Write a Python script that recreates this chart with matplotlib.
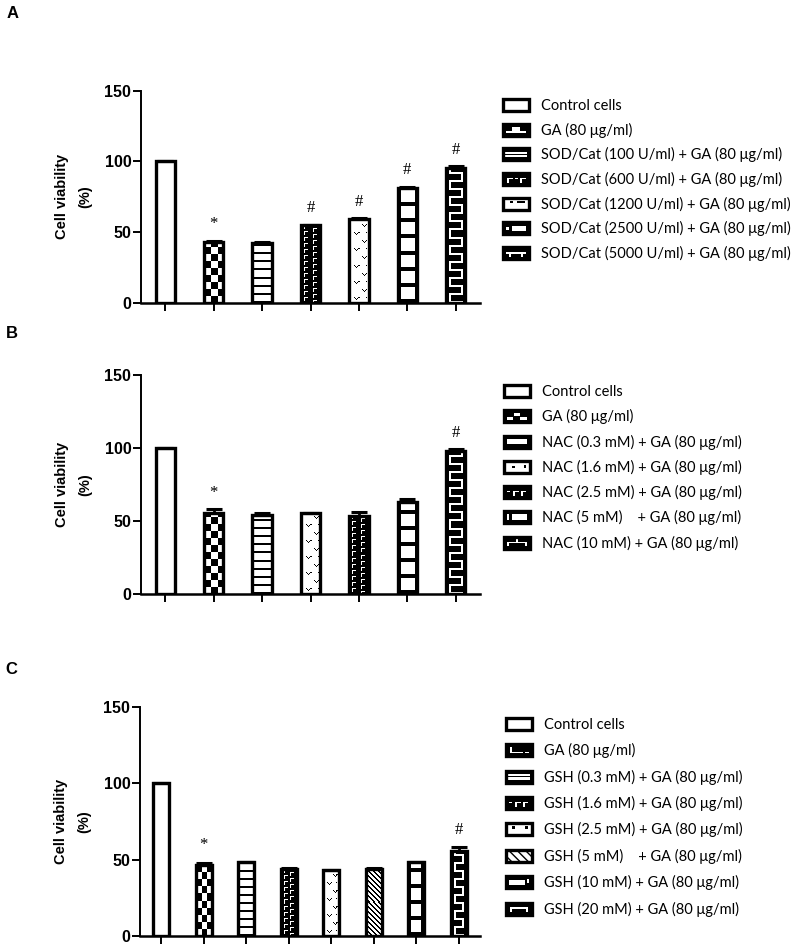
import numpy as np
import matplotlib
matplotlib.use('Agg')
import matplotlib.pyplot as plt
from matplotlib.patches import Rectangle
from matplotlib.legend_handler import HandlerBase

# --- data ---
labels_a = ['Control cells', 'GA (80 μg/ml)',
            'SOD/Cat (100 U/ml) + GA (80 μg/ml)', 'SOD/Cat (600 U/ml) + GA (80 μg/ml)',
            'SOD/Cat (1200 U/ml) + GA (80 μg/ml)', 'SOD/Cat (2500 U/ml) + GA (80 μg/ml)',
            'SOD/Cat (5000 U/ml) + GA (80 μg/ml)']
viab_a = [100, 42.8, 42.4, 54.8, 59.5, 81.5, 95.5]
err_a = [0, 1.3, 0.5, 0.5, 0.4, 0.8, 1.3]
marks_a = ['', '*', '', '#', '#', '#', '#']

labels_b = ['Control cells', 'GA (80 μg/ml)',
            'NAC (0.3 mM) + GA (80 μg/ml)', 'NAC (1.6 mM) + GA (80 μg/ml)',
            'NAC (2.5 mM) + GA (80 μg/ml)', 'NAC (5 mM)    + GA (80 μg/ml)',
            'NAC (10 mM) + GA (80 μg/ml)']
viab_b = [100, 55.3, 54.4, 55.3, 53.7, 62.8, 98.2]
err_b = [0, 2.6, 0.9, 0.4, 2.4, 2.4, 0.9]
marks_b = ['', '*', '', '', '', '', '#']

labels_c = ['Control cells', 'GA (80 μg/ml)',
            'GSH (0.3 mM) + GA (80 μg/ml)', 'GSH (1.6 mM) + GA (80 μg/ml)',
            'GSH (2.5 mM) + GA (80 μg/ml)', 'GSH (5 mM)    + GA (80 μg/ml)',
            'GSH (10 mM) + GA (80 μg/ml)', 'GSH (20 mM) + GA (80 μg/ml)']
viab_c = [100, 46.6, 48.3, 44.1, 43.1, 44.1, 48.1, 55.4]
err_c = [0, 1.3, 0.4, 0.4, 0.3, 0.7, 0.4, 2.6]
marks_c = ['', '*', '', '', '', '', '', '#']

# fill patterns per bar (GraphPad-like)
pat_a = ['plain', 'checker', 'hlines', 'lshape', 'vdots', 'squares', 'brick']
pat_b = ['plain', 'checker', 'hlines', 'vdots', 'lshape', 'squares', 'brick']
pat_c = ['plain', 'checker', 'hlines', 'lshape', 'vdots', 'diag', 'squares', 'brick']

# legend icons: (base colour, spot colour, spots, hatch)
icons_a = [('white', 'white', [], None),
           ('black', 'white', [(0.1, 0.22, 0.8, 0.14), (0.35, 0.36, 0.3, 0.38)], None),
           ('black', 'white', [(0.08, 0.56, 0.84, 0.16), (0.08, 0.26, 0.84, 0.16)], None),
           ('black', 'white', [(0.15, 0.48, 0.22, 0.14), (0.15, 0.2, 0.08, 0.3),
                               (0.45, 0.48, 0.12, 0.14), (0.65, 0.48, 0.22, 0.14),
                               (0.65, 0.2, 0.08, 0.3)], None),
           ('white', 'black', [(0.28, 0.55, 0.1, 0.2), (0.52, 0.55, 0.32, 0.2)], None),
           ('black', 'white', [(0.35, 0.3, 0.55, 0.4), (0.1, 0.38, 0.12, 0.25)], None),
           ('black', 'white', [(0.1, 0.45, 0.8, 0.13), (0.22, 0.2, 0.08, 0.3),
                               (0.7, 0.2, 0.08, 0.3)], None)]
icons_b = [('white', 'white', [], None),
           ('black', 'white', [(0.38, 0.5, 0.25, 0.25), (0.1, 0.22, 0.25, 0.25),
                               (0.62, 0.22, 0.25, 0.25)], None),
           ('black', 'white', [(0.12, 0.3, 0.76, 0.4)], None),
           ('white', 'black', [(0.3, 0.38, 0.12, 0.22), (0.76, 0.38, 0.1, 0.28)], None),
           ('black', 'white', [(0.1, 0.48, 0.12, 0.14), (0.35, 0.48, 0.22, 0.14),
                               (0.35, 0.2, 0.08, 0.3), (0.65, 0.48, 0.2, 0.14),
                               (0.65, 0.2, 0.08, 0.3)], None),
           ('black', 'white', [(0.3, 0.25, 0.6, 0.5), (0.1, 0.25, 0.08, 0.5)], None),
           ('black', 'white', [(0.1, 0.45, 0.8, 0.13), (0.45, 0.58, 0.08, 0.25),
                               (0.1, 0.2, 0.08, 0.25), (0.82, 0.2, 0.08, 0.25)], None)]
icons_c = [('white', 'white', [], None),
           ('black', 'white', [(0.15, 0.25, 0.1, 0.5), (0.15, 0.25, 0.5, 0.14),
                               (0.75, 0.25, 0.12, 0.14)], None),
           ('black', 'white', [(0.08, 0.55, 0.84, 0.2), (0.08, 0.25, 0.84, 0.2)], None),
           ('black', 'white', [(0.1, 0.48, 0.12, 0.14), (0.35, 0.48, 0.22, 0.14),
                               (0.35, 0.2, 0.08, 0.3), (0.65, 0.48, 0.2, 0.14),
                               (0.65, 0.2, 0.08, 0.3)], None),
           ('white', 'black', [(0.22, 0.55, 0.12, 0.2), (0.75, 0.5, 0.1, 0.25)], None),
           ('white', 'white', [], '\\\\\\\\'),
           ('black', 'white', [(0.1, 0.3, 0.62, 0.4), (0.8, 0.45, 0.08, 0.3)], None),
           ('black', 'white', [(0.15, 0.5, 0.7, 0.15), (0.15, 0.22, 0.08, 0.4),
                               (0.77, 0.22, 0.08, 0.4)], None)]


def pattern(kind, h, w):
    r, c = np.mgrid[0:h, 0:w]
    img = np.zeros((h, w))
    if kind == 'checker':
        img = ((r // 7) + (c * 3 // max(w, 1))) % 2
    elif kind == 'hlines':
        img = (r % 8 < 2).astype(float)
    elif kind == 'vdots':
        img = np.zeros((h, w))
        for k, cx in enumerate([int(w * 0.38), int(w * 0.78)]):
            for r0 in range(3 + k * 8, h - 3, 16):
                for dr, dcs in [(2, (-2, 2)), (1, (-1, 1)), (0, (0,))]:
                    for dc in dcs:
                        if 0 <= cx + dc < w:
                            img[r0 + dr, cx + dc] = 1
            # small dots near the right edge
        img[(r % 8 == 5) & (c == w - 3)] = 1
    elif kind == 'lshape':
        img = np.ones((h, w))
        for k, c0 in enumerate([int(w * 0.2), int(w * 0.6)]):
            loc = (r + 3 * k) % 6
            img[(loc == 5) & (c >= c0) & (c < c0 + 4)] = 0
            img[(loc >= 2) & (c == c0)] = 0
    elif kind == 'squares':
        img = ((r % 16 < 4) | (c < 3) | (c >= w - 3)).astype(float)
    elif kind == 'brick':
        img = np.ones((h, w))
        img[(r % 8 < 2) & (c >= 3) & (c < w - 3)] = 0
        left = (r // 8) % 2 == 0
        img[left & (c >= 3) & (c < 5)] = 0
        img[~left & (c >= w - 5) & (c < w - 3)] = 0
    elif kind == 'diag':
        img = ((r + c) % 5 < 2).astype(float)
    return img


class Icon:
    def __init__(self, spec):
        self.base, self.spot_color, self.spots, self.hatch = spec


class IconHandler(HandlerBase):
    def create_artists(self, legend, orig_handle, xdescent, ydescent,
                       width, height, fontsize, trans):
        x0, y0 = -xdescent, -ydescent
        arts = [Rectangle((x0, y0), width, height, facecolor=orig_handle.base,
                          edgecolor='black', hatch=orig_handle.hatch, lw=0,
                          transform=trans)]
        for sx, sy, sw, sh in orig_handle.spots:
            arts.append(Rectangle((x0 + sx * width, y0 + sy * height), sw * width,
                                  sh * height, facecolor=orig_handle.spot_color,
                                  edgecolor='none', transform=trans))
        arts.append(Rectangle((x0, y0), width, height, facecolor='none',
                              edgecolor='black', lw=2.4, transform=trans))
        return arts


fig = plt.figure(figsize=(8, 9.5), dpi=100)

tickfont = matplotlib.font_manager.FontProperties(family='Liberation Sans',
                                                  weight='bold', size=11.5)
legfam = ['Lato', 'DejaVu Sans']


def panel(rect, vals, errs, marks, pats, labels, icons, barw, letter, letter_xy,
          leg_xy, leg_pitch):
    ax = fig.add_axes(rect)
    n = len(vals)
    x = np.arange(n)
    ax.set_xlim(-0.5, n - 0.5)
    ax.set_ylim(0, 150)
    bars = ax.bar(x, vals, width=barw, facecolor='none', edgecolor='black',
                  linewidth=2.4, zorder=3)
    # fill patterns, pixel based
    for b, kind in zip(bars, pats):
        (px0, py0), (px1, py1) = ax.transData.transform(
            [(b.get_x(), 0), (b.get_x() + b.get_width(), b.get_height())])
        h, w = max(int(round(py1 - py0)), 1), max(int(round(px1 - px0)), 1)
        im = ax.imshow(pattern(kind, h, w), cmap='gray_r', vmin=0, vmax=1,
                       origin='lower', interpolation='nearest', aspect='auto',
                       extent=(b.get_x(), b.get_x() + b.get_width(), 0, b.get_height()),
                       zorder=2)
        im.set_clip_path(b)
    ax.set_xlim(-0.5, n - 0.5)
    ax.set_ylim(0, 150)
    ax.errorbar(x, vals, yerr=[np.zeros(n), errs], fmt='none', ecolor='black',
                elinewidth=2, capsize=6, capthick=2.2, zorder=4)
    for xi, v, e, m in zip(x, vals, errs, marks):
        if m:
            ax.text(xi, v + e + 11.5, m, ha='center', va='center',
                    family='Liberation Serif', size=12)
    for s in ['top', 'right']:
        ax.spines[s].set_visible(False)
    ax.spines['left'].set_linewidth(1.4)
    ax.spines['bottom'].set_linewidth(1.8)
    ax.set_yticks([0, 50, 100, 150])
    ax.set_xticks(x)
    ax.set_xticklabels([])
    ax.tick_params(axis='y', length=6, width=1.4, pad=1)
    ax.tick_params(axis='x', length=6, width=1.4)
    for t in ax.get_yticklabels():
        t.set_fontproperties(tickfont)
    ax.set_ylabel('Cell viability\n(%)', family='Liberation Sans', weight='bold',
                  size=10.5, linespacing=1.8, labelpad=9)
    fig.text(letter_xy[0] / 800, 1 - letter_xy[1] / 950, letter, family='Liberation Sans',
             weight='bold', size=12, ha='center', va='center')
    handles = [Icon(s) for s in icons]
    fs = 10.5
    lab_px = fs * 100 / 72
    ax.legend(handles, labels, handler_map={Icon: IconHandler()},
              loc='upper left', bbox_to_anchor=(leg_xy[0] / 800, 1 - leg_xy[1] / 950),
              bbox_transform=fig.transFigure, frameon=False, borderpad=0,
              borderaxespad=0, handlelength=26 / lab_px, handleheight=13 / lab_px,
              handletextpad=0.8, labelspacing=(leg_pitch - 15.1) / lab_px,
              prop=dict(family=legfam, size=fs))
    return ax


panel([141 / 800, 1 - 303 / 950, 339 / 800, 212.3 / 950], viab_a, err_a, marks_a,
      pat_a, labels_a, icons_a, 0.4, 'A', (12.5, 14), (503, 99), 24.7)
panel([141 / 800, 1 - 594 / 950, 339 / 800, 219 / 950], viab_b, err_b, marks_b,
      pat_b, labels_b, icons_b, 0.4, 'B', (11.5, 334), (504, 385), 25.3)
panel([140 / 800, 1 - 936 / 950, 340 / 800, 229.3 / 950], viab_c, err_c, marks_c,
      pat_c, labels_c, icons_c, 0.37, 'C', (11.5, 669.5), (506, 718), 26.4)

plt.savefig('out.png', dpi=100)
